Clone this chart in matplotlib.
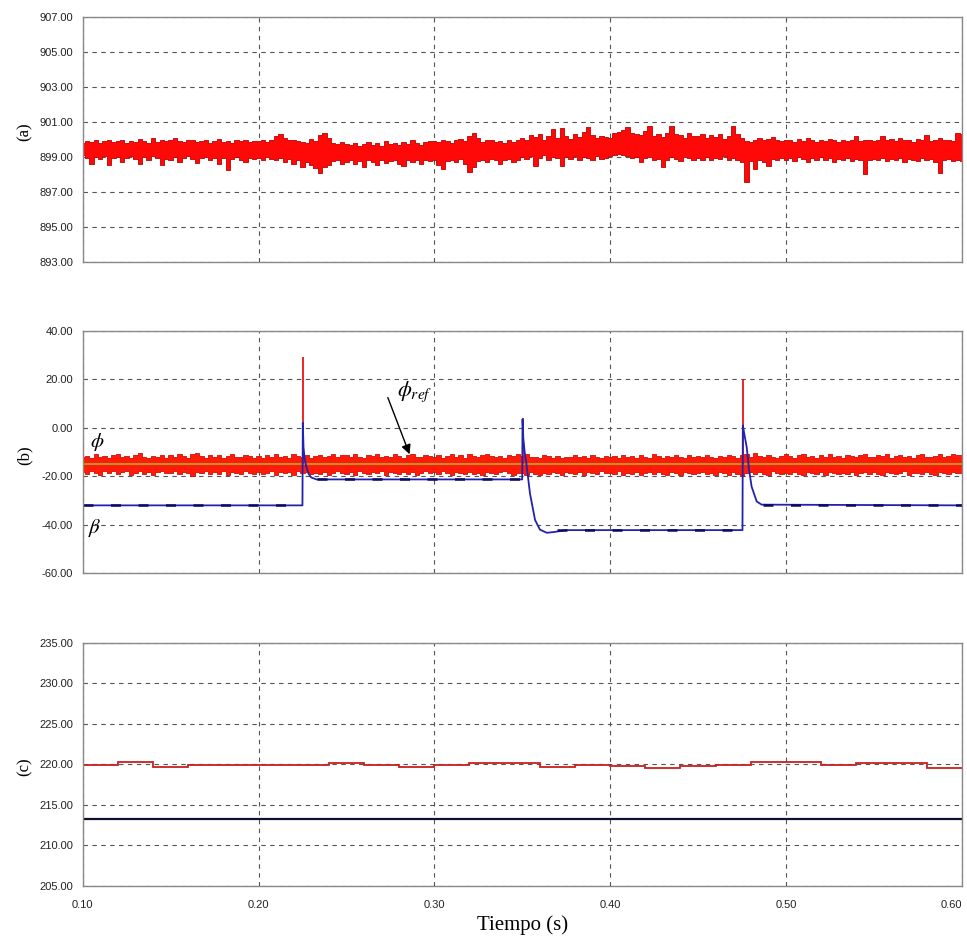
import numpy as np
import matplotlib
matplotlib.use('Agg')
import matplotlib.pyplot as plt
from matplotlib.ticker import FormatStrFormatter

# ---------------- data ----------------
t_start, t_step = 0.10, 0.0025

# panel (a): envelope of the noisy speed signal (upper / lower)
speed_hi = [
    899.80, 899.90, 899.85, 899.95, 899.80, 899.90, 900.00, 899.85, 899.90, 899.95,
    899.80, 899.90, 899.85, 900.05, 899.90, 899.80, 900.10, 899.85, 899.95, 899.90,
    899.95, 900.10, 899.90, 899.85, 899.95, 900.00, 899.85, 899.90, 899.95, 899.80,
    899.90, 900.05, 899.85, 899.90, 899.80, 899.95, 899.90, 900.00, 899.85, 899.90,
    899.90, 900.00, 899.85, 899.95, 900.20, 900.30, 900.10, 899.95, 900.00, 899.90,
    899.85, 899.80, 900.05, 899.90, 900.25, 900.40, 900.10, 899.80, 899.75, 899.85,
    899.75, 899.70, 899.80, 899.65, 899.75, 899.85, 899.70, 899.80, 899.65, 899.90,
    899.75, 899.80, 899.70, 899.85, 899.75, 899.95, 899.80, 899.70, 899.85, 899.90,
    899.90, 899.85, 900.00, 899.90, 899.80, 899.95, 900.05, 899.90, 900.20, 900.35,
    900.10, 899.85, 899.95, 900.00, 899.85, 899.90, 899.80, 899.95, 899.85, 900.00,
    900.10, 900.00, 900.25, 900.15, 900.30, 900.00, 900.20, 900.60, 900.10, 900.65,
    900.20, 900.05, 900.30, 900.15, 900.45, 900.70, 900.25, 900.10, 900.20, 900.15,
    900.10, 900.40, 900.45, 900.55, 900.70, 900.40, 900.30, 900.25, 900.50, 900.80,
    900.20, 900.30, 900.15, 900.40, 900.80, 900.30, 900.25, 900.10, 900.35, 900.20,
    900.20, 900.30, 900.10, 900.25, 900.15, 900.30, 900.05, 900.20, 900.80, 900.30,
    900.10, 899.90, 899.85, 900.00, 900.10, 899.95, 900.05, 900.15, 900.00, 899.90,
    899.95, 900.00, 899.85, 900.05, 899.90, 900.10, 899.95, 899.85, 900.00, 899.90,
    900.05, 899.95, 899.85, 900.00, 899.90, 899.95, 900.20, 899.90, 900.00, 899.95,
    899.90, 900.00, 900.20, 899.95, 900.05, 899.90, 900.10, 899.95, 900.00, 899.85,
    900.05, 899.95, 900.25, 899.90, 900.00, 900.10, 899.95, 900.00, 899.90, 900.40,
    900.30,
]
speed_lo = [
    899.10, 898.95, 898.60, 899.00, 898.90, 899.05, 898.55, 898.95, 899.00, 898.70,
    898.95, 899.05, 898.90, 898.60, 899.00, 898.85, 899.05, 898.95, 898.55, 898.90,
    898.85, 899.00, 898.70, 898.95, 899.05, 898.90, 898.65, 898.95, 899.00, 898.85,
    898.95, 898.60, 898.95, 898.25, 898.90, 899.00, 898.85, 898.70, 898.95, 898.90,
    898.95, 898.85, 899.00, 898.90, 898.80, 898.95, 898.70, 898.90, 898.60, 898.80,
    898.45, 898.70, 898.55, 898.35, 898.10, 898.40, 898.55, 898.75, 898.85, 898.60,
    898.70, 898.80, 898.60, 898.75, 898.45, 898.80, 898.70, 898.55, 898.85, 898.65,
    898.75, 898.80, 898.60, 898.50, 898.80, 898.70, 898.85, 898.60, 898.80, 898.75,
    898.80, 898.55, 898.30, 898.75, 898.85, 898.70, 898.90, 898.60, 898.15, 898.45,
    898.75, 898.85, 898.70, 898.90, 898.80, 898.60, 898.85, 898.90, 898.70, 898.80,
    899.00, 898.90, 899.05, 898.50, 898.95, 899.10, 898.85, 899.00, 898.95, 898.50,
    899.00, 898.90, 899.05, 898.80, 899.00, 898.95, 898.85, 899.05, 898.90, 898.95,
    899.05, 899.10, 899.15, 899.10, 899.05, 898.95, 899.00, 898.70, 898.95, 899.00,
    898.85, 898.90, 898.40, 898.80, 899.00, 898.90, 898.75, 899.00, 898.95, 898.85,
    898.95, 898.85, 899.00, 898.80, 898.95, 898.90, 899.05, 898.85, 898.95, 898.80,
    898.70, 897.55, 898.75, 898.30, 898.85, 898.70, 898.50, 898.90, 898.80, 898.95,
    898.85, 898.95, 898.75, 899.00, 898.90, 898.70, 898.95, 898.85, 899.00, 898.80,
    898.95, 898.70, 898.90, 898.85, 898.95, 898.75, 898.90, 898.80, 898.00, 898.85,
    898.90, 898.80, 898.95, 898.75, 898.90, 898.85, 898.95, 898.70, 898.90, 898.85,
    898.75, 898.95, 898.80, 898.90, 898.70, 898.10, 898.85, 898.90, 898.75, 898.80,
    898.75,
]

# panel (b): envelope of the noisy phi signal
phi_hi = [
    -12.0, -11.5, -12.5, -11.0, -12.2, -11.8, -12.6, -11.2, -10.8, -12.0,
    -11.6, -12.4, -11.3, -10.6, -11.9, -12.3, -11.5, -12.0, -11.1, -12.5,
    -11.4, -12.2, -10.9, -11.7, -12.5, -11.0, -10.5, -11.8, -12.3, -11.4,
    -12.0, -11.1, -12.6, -11.5, -10.7, -11.9, -12.2, -11.3, -11.8, -12.4,
    -11.8, -12.3, -11.2, -11.9, -10.8, -12.1, -11.5, -12.4, -11.0, -11.7,
    -12.0, -11.3, -12.5, -11.8, -11.1, -12.2, -11.6, -10.9, -12.0, -11.4,
    -11.3, -12.1, -10.7, -11.9, -12.4, -11.2, -11.8, -10.9, -12.2, -11.5,
    -12.0, -11.0, -11.7, -12.5, -11.4, -10.8, -11.9, -12.2, -11.3, -11.6,
    -11.9, -11.1, -12.3, -11.6, -10.7, -12.0, -11.4, -12.4, -11.0, -11.8,
    -12.2, -11.3, -10.9, -11.7, -12.1, -11.5, -12.4, -11.2, -11.8, -11.0,
    -11.5, -10.8, -12.2, -11.9, -12.4, -11.3, -11.7, -12.3, -11.6, -12.5,
    -11.9, -12.2, -11.4, -12.0, -11.8, -12.5, -11.3, -11.9, -12.3, -11.6,
    -12.0, -11.5, -12.4, -11.1, -12.2, -11.7, -12.5, -11.3, -11.9, -12.3,
    -11.0, -11.8, -12.4, -11.6, -12.1, -11.2, -11.9, -12.5, -11.4, -12.0,
    -11.6, -12.2, -11.3, -11.9, -12.4, -11.5, -12.0, -11.2, -11.8, -12.3,
    -11.4, -11.0, -12.1, -10.6, -11.7, -12.2, -11.1, -11.9, -12.4, -11.5,
    -11.0, -11.8, -12.3, -11.4, -10.7, -12.0, -11.6, -12.4, -11.2, -11.9,
    -10.9, -12.1, -11.5, -12.3, -11.1, -11.7, -12.2, -11.3, -10.8, -11.9,
    -12.2, -11.4, -11.8, -10.9, -12.3, -11.6, -11.1, -12.0, -11.7, -12.4,
    -11.3, -10.8, -11.9, -12.2, -11.5, -11.0, -12.1, -11.6, -10.7, -11.4,
    -11.2,
]
phi_lo = [
    -18.2, -19.0, -17.8, -18.5, -19.5, -18.0, -18.7, -17.9, -19.2, -18.4,
    -18.0, -19.3, -18.6, -17.8, -18.9, -18.2, -19.6, -18.3, -18.0, -18.8,
    -18.5, -17.9, -19.1, -18.3, -18.8, -19.7, -18.1, -18.6, -17.8, -19.0,
    -18.4, -18.9, -18.0, -19.4, -18.2, -18.7, -19.2, -18.0, -18.5, -19.1,
    -18.3, -19.0, -18.6, -17.9, -19.3, -18.2, -18.8, -18.4, -19.5, -18.0,
    -18.7, -18.1, -19.1, -18.5, -18.9, -18.2, -19.4, -18.6, -18.0, -18.8,
    -18.9, -18.3, -19.4, -18.0, -18.7, -19.2, -18.4, -18.8, -17.9, -19.5,
    -18.2, -18.6, -19.0, -18.3, -18.9, -18.1, -19.3, -18.5, -18.0, -18.7,
    -18.4, -19.1, -18.0, -18.8, -19.4, -18.3, -18.6, -19.0, -18.2, -18.9,
    -18.5, -19.3, -18.1, -18.7, -19.2, -18.4, -18.0, -18.8, -19.5, -18.6,
    -18.8, -19.4, -18.2, -18.9, -19.6, -18.5, -19.1, -18.3, -18.7, -19.3,
    -18.1, -18.6, -19.0, -18.4, -19.5, -18.2, -18.8, -19.2, -18.0, -18.6,
    -18.5, -19.2, -18.0, -19.6, -18.7, -19.0, -18.3, -19.4, -18.6, -18.1,
    -19.1, -18.4, -18.9, -19.3, -18.2, -18.8, -19.5, -18.3, -18.7, -19.0,
    -18.7, -18.2, -19.0, -18.5, -19.3, -18.1, -18.8, -19.4, -18.3, -19.0,
    -19.7, -18.6, -18.2, -19.1, -18.4, -18.9, -19.3, -18.0, -18.6, -19.2,
    -18.6, -19.1, -18.3, -18.9, -19.4, -18.2, -18.7, -19.0, -18.4, -19.3,
    -18.1, -18.8, -19.2, -18.5, -18.9, -18.2, -19.5, -18.6, -18.3, -18.9,
    -18.4, -18.9, -19.3, -18.2, -18.7, -19.1, -18.5, -18.0, -19.4, -18.6,
    -18.8, -19.2, -18.3, -18.9, -19.5, -18.1, -18.7, -19.0, -18.4, -18.8,
    -18.6,
]
phi_ref_value = -15.0
spike_t = [0.2251, 0.3503, 0.4754]
spike_peak = [29.0, 4.0, 20.0]

# beta (blue) trajectory
beta_t = [0.100, 0.2250, 0.2252, 0.2256, 0.2262, 0.2272, 0.2285, 0.2300, 0.2330,
          0.3500, 0.3502, 0.3506, 0.3514, 0.3526, 0.3544, 0.3573, 0.3601, 0.3640,
          0.3680, 0.3750, 0.4753, 0.4755, 0.4762, 0.4777, 0.4790, 0.4805, 0.4834,
          0.4862, 0.600]
beta_v = [-32.0, -32.0, 2.0, -8.0, -12.5, -16.0, -19.0, -20.5, -21.3,
          -21.3, 3.5, -4.0, -10.0, -16.0, -27.0, -38.0, -42.0, -43.3,
          -43.0, -42.2, -42.2, 1.0, -2.0, -8.0, -17.0, -24.3, -30.4,
          -31.7, -32.0]
beta_ref_levels = [-32.0, -21.3, -42.2, -32.0]
beta_ref_start = [0.100, 0.233, 0.370, 0.487]
beta_ref_end = [0.2250, 0.3500, 0.4753, 0.600]

# panel (c): voltage steps
volt_edges = [0.10, 0.12, 0.14, 0.16, 0.18, 0.20, 0.22, 0.24, 0.26, 0.28, 0.30,
              0.32, 0.34, 0.36, 0.38, 0.40, 0.42, 0.44, 0.46, 0.48, 0.50, 0.52,
              0.54, 0.56, 0.58, 0.60]
volt_v = [219.9, 220.35, 219.65, 219.9, 219.9, 219.9, 219.9, 220.15, 219.9, 219.65,
          219.9, 220.15, 220.15, 219.65, 219.9, 219.75, 219.55, 219.75, 219.95, 220.35,
          220.35, 219.95, 220.15, 220.15, 219.55]
volt_ref = 213.2

x_ticks = [0.10, 0.20, 0.30, 0.40, 0.50, 0.60]
a_ticks = [893, 895, 897, 899, 901, 903, 905, 907]
b_ticks = [-60, -40, -20, 0, 20, 40]
c_ticks = [205, 210, 215, 220, 225, 230, 235]

# ---------------- figure ----------------
W, H = 967, 941
fig = plt.figure(figsize=(W / 100, H / 100), dpi=100)
plt.rcParams['font.family'] = ['Liberation Sans', 'DejaVu Sans']
plt.rcParams['mathtext.fontset'] = 'stix'

def px_axes(left, top, right, bottom):
    return fig.add_axes([left / W, 1 - bottom / H, (right - left) / W, (bottom - top) / H])

ax_a = px_axes(82.7, 17.3, 961.7, 261.7)
ax_b = px_axes(82.7, 330.7, 961.7, 573.3)
ax_c = px_axes(82.7, 642.7, 961.7, 886.0)

grid_kw = dict(color='#555555', lw=0.8, linestyle=(0, (4, 4)))

def style(ax, yticks, show_x):
    ax.set_xlim(0.10, 0.60)
    ax.set_ylim(yticks[0], yticks[-1])
    ax.set_xticks(x_ticks)
    ax.set_yticks(yticks)
    ax.yaxis.set_major_formatter(FormatStrFormatter('%.2f'))
    ax.xaxis.set_major_formatter(FormatStrFormatter('%.2f'))
    ax.tick_params(length=0, labelsize=8, colors='#222222')
    ax.tick_params(axis='y', pad=7)
    ax.tick_params(axis='x', pad=10)
    if not show_x:
        ax.tick_params(labelbottom=False)
    ax.grid(True, **grid_kw)
    ax.set_axisbelow(True)
    for s in ax.spines.values():
        s.set_color('#888888')
        s.set_linewidth(1.0)

t = np.arange(len(speed_hi)) * t_step + t_start

# (a)
style(ax_a, a_ticks, False)
ax_a.fill_between(t, speed_lo, speed_hi, step='mid', facecolor='#ff0808',
                  edgecolor='#c00000', lw=0.6)

# (b)
style(ax_b, b_ticks, False)
ax_b.fill_between(t, phi_lo, phi_hi, step='mid', facecolor='#ff1a0a',
                  edgecolor='#d01000', lw=0.6)
ax_b.axhline(phi_ref_value, color='#b0a228', lw=1.3)
ax_b.vlines(spike_t, phi_ref_value, spike_peak, color='#ee1111', lw=1.3)
ax_b.plot(beta_t, beta_v, color='#2222b0', lw=1.3)
ax_b.hlines(beta_ref_levels, beta_ref_start, beta_ref_end, color='#0a0a60',
            lw=1.8, linestyle=(0, (4, 7)))
ax_b.text(0.108, -6, r'$\phi$', fontsize=15, ha='center', va='center')
ax_b.text(0.107, -41.5, r'$\beta$', fontsize=15, ha='center', va='center')
ax_b.text(0.2785, 15, r'$\phi_{ref}$', fontsize=16, ha='left', va='center')
ax_b.annotate('', xy=(0.2865, -12), xytext=(0.273, 13.5),
              arrowprops=dict(arrowstyle='-|>', color='black', lw=1.0,
                              mutation_scale=14))

# (c)
style(ax_c, c_ticks, True)
ax_c.stairs(volt_v, volt_edges, color='#c82020', lw=1.3, baseline=None)
ax_c.axhline(volt_ref, color='#101030', lw=1.6)
ax_c.set_xlabel('Tiempo (s)', family='Liberation Serif', fontsize=15, labelpad=4)
last = ax_c.get_xticklabels()[-1]
last.set_horizontalalignment('right')
last.set_x(0.60)

# panel letters
for lab, yc in (('(a)', 131.7), ('(b)', 455.0), ('(c)', 766.7)):
    fig.text(25 / W, 1 - yc / H, lab, rotation=90, ha='center', va='center',
             family='Liberation Serif', fontsize=12)

fig.savefig('out.png', dpi=100, facecolor='white')
